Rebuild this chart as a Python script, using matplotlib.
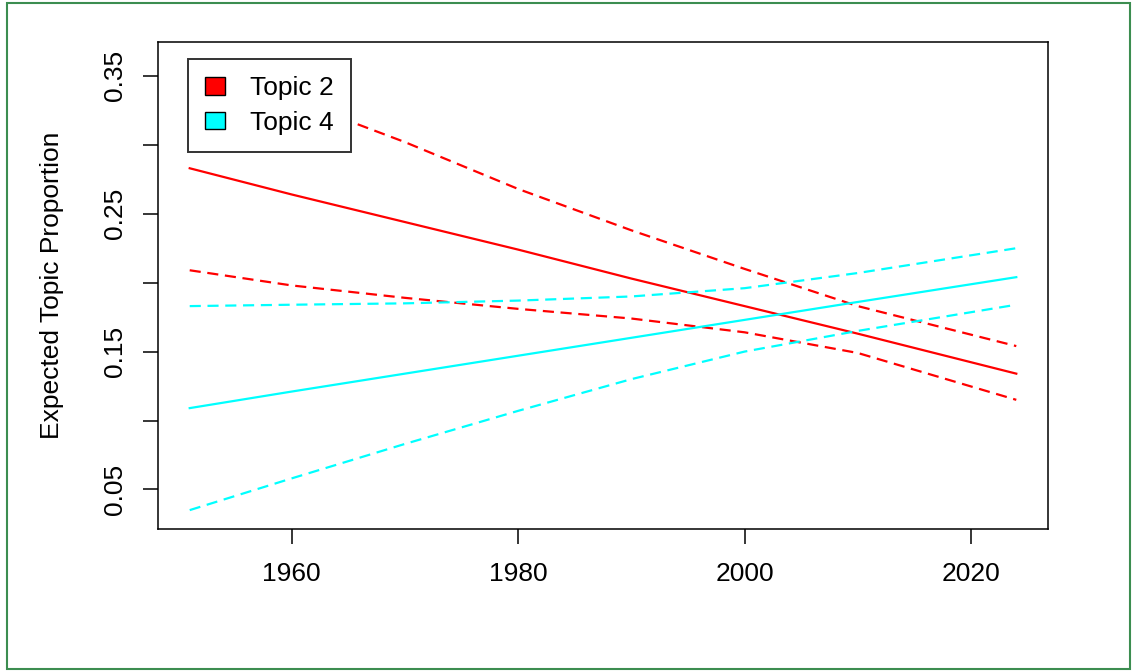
import matplotlib
matplotlib.use("Agg")
import matplotlib.pyplot as plt
from matplotlib.patches import Patch, Rectangle

plt.rcParams["font.family"] = ["Liberation Sans", "DejaVu Sans"]

# values
years = [1951, 1960, 1970, 1980, 1990, 2000, 2010, 2024]

topic2_mean = [0.283, 0.264, 0.244, 0.224, 0.203, 0.183, 0.163, 0.134]
topic2_upper = [0.357, 0.333, 0.302, 0.268, 0.238, 0.210, 0.183, 0.154]
topic2_lower = [0.209, 0.198, 0.189, 0.181, 0.174, 0.164, 0.149, 0.115]

topic4_mean = [0.109, 0.121, 0.134, 0.147, 0.160, 0.173, 0.186, 0.204]
topic4_upper = [0.183, 0.184, 0.185, 0.187, 0.190, 0.196, 0.207, 0.225]
topic4_lower = [0.035, 0.058, 0.083, 0.107, 0.130, 0.150, 0.165, 0.184]

xticks = [1960, 1980, 2000, 2020]
yticks = [0.05, 0.10, 0.15, 0.20, 0.25, 0.30, 0.35]
ytick_labels = ["0.05", "", "0.15", "", "0.25", "", "0.35"]

W, H = 1133, 671
fs = 19
fig = plt.figure(figsize=(W / 100, H / 100), dpi=100)
ax = fig.add_axes([158 / W, 1 - 529 / H, 890 / W, 487 / H])

dash = (5, 3)
ax.plot(years, topic2_mean, color="red", lw=1.6)
ax.plot(years, topic2_upper, color="red", lw=1.6, dashes=dash)
ax.plot(years, topic2_lower, color="red", lw=1.6, dashes=dash)
ax.plot(years, topic4_mean, color="cyan", lw=1.6)
ax.plot(years, topic4_upper, color="cyan", lw=1.6, dashes=dash)
ax.plot(years, topic4_lower, color="cyan", lw=1.6, dashes=dash)

ax.set_xlim(1948.2, 2026.8)
ax.set_ylim(0.0213, 0.3746)
ax.set_xticks(xticks)
ax.set_xticklabels([str(x) for x in xticks])
ax.set_yticks(yticks)
ax.set_yticklabels(ytick_labels, rotation=90, va="center")
ax.tick_params(direction="out", length=11, width=1.1, labelsize=fs, colors="black")
ax.tick_params(axis="x", pad=13)
ax.tick_params(axis="y", pad=11)
for s in ax.spines.values():
    s.set_linewidth(1.1)

ax.set_ylabel("Expected Topic Proportion", fontsize=fs, va="center")
ax.yaxis.set_label_coords(-0.119, 0.5)

# legend sits over the start of the upper topic 2 band, as in the original
handles = [Patch(facecolor="red", edgecolor="black", lw=1.0),
           Patch(facecolor="cyan", edgecolor="black", lw=1.0)]
leg = ax.legend(handles, ["Topic 2", "Topic 4"], loc="upper left",
                bbox_to_anchor=(0.034, 0.965), borderaxespad=0, fontsize=fs,
                fancybox=False, framealpha=1, edgecolor="#333333",
                handlelength=0.75, handleheight=0.65, handletextpad=0.95,
                labelspacing=0.4, borderpad=0.65)
leg.get_frame().set_linewidth(1.4)

fig.patches.append(Rectangle((7 / W, 2 / H), 1123 / W, 666 / H, transform=fig.transFigure,
                             fill=False, edgecolor="#3c8d50", lw=1.5))

fig.savefig("out.png", dpi=100)
